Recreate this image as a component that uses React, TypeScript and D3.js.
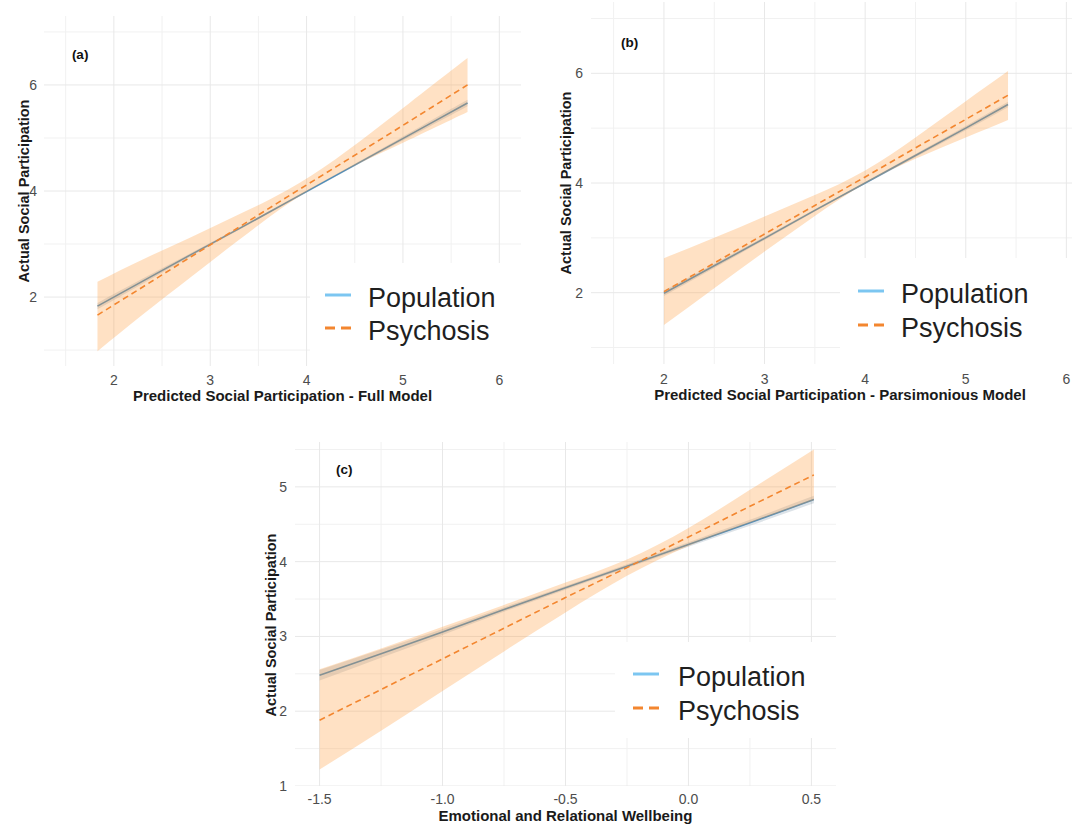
import React from 'react';
import * as d3 from 'd3';

// ---- data (fitted line + 95% band per group) ----

// (a) full model
const A_X = [1.83, 2.3, 2.8, 3.3, 3.8, 4.3, 4.8, 5.3, 5.67];
const A_POP_FIT = [1.83, 2.3, 2.8, 3.29, 3.79, 4.29, 4.79, 5.29, 5.66];
const A_POP_LO = [1.77, 2.25, 2.77, 3.27, 3.77, 4.27, 4.76, 5.24, 5.6];
const A_POP_HI = [1.89, 2.35, 2.83, 3.31, 3.81, 4.31, 4.82, 5.34, 5.72];
const A_PSY_FIT = [1.66, 2.19, 2.76, 3.32, 3.89, 4.45, 5.01, 5.58, 6.0];
const A_PSY_LO = [0.98, 1.67, 2.38, 3.08, 3.75, 4.3, 4.74, 5.17, 5.49];
const A_PSY_HI = [2.29, 2.71, 3.13, 3.56, 4.02, 4.6, 5.28, 5.99, 6.51];

// (b) parsimonious model
const B_X = [2.0, 2.5, 3.0, 3.5, 4.0, 4.5, 5.0, 5.42];
const B_POP_FIT = [1.99, 2.49, 2.99, 3.5, 4.0, 4.5, 5.0, 5.43];
const B_POP_LO = [1.94, 2.45, 2.96, 3.48, 3.98, 4.47, 4.96, 5.38];
const B_POP_HI = [2.04, 2.53, 3.02, 3.52, 4.02, 4.53, 5.04, 5.48];
const B_PSY_FIT = [2.02, 2.54, 3.07, 3.59, 4.11, 4.64, 5.16, 5.6];
const B_PSY_LO = [1.41, 2.08, 2.75, 3.4, 3.99, 4.44, 4.83, 5.15];
const B_PSY_HI = [2.63, 3.0, 3.39, 3.78, 4.23, 4.83, 5.49, 6.04];

// (c) emotional and relational wellbeing
const C_X = [-1.5, -1.25, -1.0, -0.75, -0.5, -0.25, 0.0, 0.25, 0.51];
const C_POP_FIT = [2.48, 2.77, 3.06, 3.36, 3.65, 3.94, 4.23, 4.52, 4.83];
const C_POP_LO = [2.41, 2.715, 3.02, 3.33, 3.625, 3.915, 4.2, 4.48, 4.78];
const C_POP_HI = [2.55, 2.825, 3.1, 3.39, 3.675, 3.965, 4.26, 4.56, 4.88];
const C_PSY_FIT = [1.88, 2.29, 2.7, 3.11, 3.52, 3.92, 4.33, 4.74, 5.16];
const C_PSY_LO = [1.22, 1.74, 2.27, 2.8, 3.32, 3.81, 4.21, 4.52, 4.82];
const C_PSY_HI = [2.56, 2.84, 3.13, 3.42, 3.72, 4.03, 4.45, 4.96, 5.5];

// ticks
const AB_X_MAJOR = [2, 3, 4, 5, 6];
const AB_X_MINOR = [1.5, 2.5, 3.5, 4.5, 5.5];
const AB_Y_MAJOR = [2, 4, 6];
const AB_Y_MINOR = [1, 3, 5, 7];
const C_X_MAJOR = [-1.5, -1.0, -0.5, 0.0, 0.5];
const C_X_LABELS = ['-1.5', '-1.0', '-0.5', '0.0', '0.5'];
const C_X_MINOR = [-1.25, -0.75, -0.25, 0.25];
const C_Y_MAJOR = [1, 2, 3, 4, 5];
const C_Y_MINOR = [1.5, 2.5, 3.5, 4.5, 5.5];

const SERIES = ['Population', 'Psychosis'];
const Y_TITLE = 'Actual Social Participation';

const FONT = '"Liberation Sans", Arial, Helvetica, sans-serif';
const POP_LINE = '#4f8dba';
const POP_KEY = '#7cc6f1';
const PSY_LINE = '#f3862f';
const PSY_FILL = '#ff9b3d';

const panels = [
  {
    id: 'a', tag: '(a)', tagAt: [1.65, 6.57],
    xTitle: 'Predicted Social Participation - Full Model',
    xs: A_X, popFit: A_POP_FIT, popLo: A_POP_LO, popHi: A_POP_HI,
    psyFit: A_PSY_FIT, psyLo: A_PSY_LO, psyHi: A_PSY_HI,
    xMajor: AB_X_MAJOR, xLabels: AB_X_MAJOR.map(String), xMinor: AB_X_MINOR,
    yMajor: AB_Y_MAJOR, yMinor: AB_Y_MINOR,
    xDomain: [1.275, 6.225], yDomain: [0.7, 7.3],
    left: 44, right: 521, top: 16, bottom: 366,
    xLabelY: 385, xTitleY: 401, yTitleX: 24, yTitleY: 191, yLabelGap: 7,
    legend: { x0: 310, y0: 263, key: 325, text: 368, rows: [295, 328] },
  },
  {
    id: 'b', tag: '(b)', tagAt: [1.66, 6.56],
    xTitle: 'Predicted Social Participation - Parsimonious Model',
    xs: B_X, popFit: B_POP_FIT, popLo: B_POP_LO, popHi: B_POP_HI,
    psyFit: B_PSY_FIT, psyLo: B_PSY_LO, psyHi: B_PSY_HI,
    xMajor: AB_X_MAJOR, xLabels: AB_X_MAJOR.map(String), xMinor: AB_X_MINOR,
    yMajor: AB_Y_MAJOR, yMinor: AB_Y_MINOR,
    xDomain: [1.275, 6.225], yDomain: [0.7, 7.3],
    left: 591, right: 1089, top: 2, bottom: 364,
    xLabelY: 384, xTitleY: 400, yTitleX: 566, yTitleY: 183, yLabelGap: 8,
    legend: { x0: 840, y0: 258, key: 858, text: 901, rows: [291, 325] },
  },
  {
    id: 'c', tag: '(c)', tagAt: [-1.4, 5.23],
    xTitle: 'Emotional and Relational Wellbeing',
    xs: C_X, popFit: C_POP_FIT, popLo: C_POP_LO, popHi: C_POP_HI,
    psyFit: C_PSY_FIT, psyLo: C_PSY_LO, psyHi: C_PSY_HI,
    xMajor: C_X_MAJOR, xLabels: C_X_LABELS, xMinor: C_X_MINOR,
    yMajor: C_Y_MAJOR, yMinor: C_Y_MINOR,
    xDomain: [-1.6, 0.6], yDomain: [1, 5.6],
    left: 295, right: 836, top: 442, bottom: 786,
    xLabelY: 804, xTitleY: 821, yTitleX: 271, yTitleY: 625, yLabelGap: 8,
    legend: { x0: 615, y0: 642, y1: 738, key: 633, text: 678, rows: [674, 708] },
  },
];

const Panel = ({ p }) => {
  const x = d3.scaleLinear().domain(p.xDomain).range([p.left, p.right]);
  const y = d3.scaleLinear().domain(p.yDomain).range([p.bottom, p.top]);
  const idx = p.xs.map((_, i) => i);

  const band = (lo, hi) =>
    d3.area().x(i => x(p.xs[i])).y0(i => y(lo[i])).y1(i => y(hi[i])).curve(d3.curveNatural)(idx);
  const fit = (v) => d3.line().x(i => x(p.xs[i])).y(i => y(v[i]))(idx);

  const clipId = `clip-${p.id}`;
  const lg = p.legend;
  const lgBottom = lg.y1 ?? p.bottom;

  return (
    <g>
      <defs>
        <clipPath id={clipId}>
          <rect x={p.left} y={p.top} width={p.right - p.left} height={p.bottom - p.top} />
        </clipPath>
      </defs>

      <g clipPath={`url(#${clipId})`}>
        {/* grid */}
        {p.xMinor.map(v => (
          <line key={'xm' + v} x1={x(v)} x2={x(v)} y1={p.top} y2={p.bottom} stroke="#f1f1f1" strokeWidth={1} />
        ))}
        {p.yMinor.map(v => (
          <line key={'ym' + v} x1={p.left} x2={p.right} y1={y(v)} y2={y(v)} stroke="#f1f1f1" strokeWidth={1} />
        ))}
        {p.xMajor.map(v => (
          <line key={'xM' + v} x1={x(v)} x2={x(v)} y1={p.top} y2={p.bottom} stroke="#e8e8e8" strokeWidth={1} />
        ))}
        {p.yMajor.map(v => (
          <line key={'yM' + v} x1={p.left} x2={p.right} y1={y(v)} y2={y(v)} stroke="#e8e8e8" strokeWidth={1} />
        ))}

        {/* population */}
        <path d={band(p.popLo, p.popHi)} fill="#8fa3b3" fillOpacity={0.3} />
        <path d={fit(p.popFit)} fill="none" stroke={POP_LINE} strokeWidth={1.6} />

        {/* psychosis */}
        <path d={band(p.psyLo, p.psyHi)} fill={PSY_FILL} fillOpacity={0.3} />
        <path d={fit(p.psyFit)} fill="none" stroke={PSY_LINE} strokeWidth={1.6} strokeDasharray="6,4" />

        {/* legend background */}
        <rect x={lg.x0} y={lg.y0} width={p.right - lg.x0} height={lgBottom - lg.y0} fill="#ffffff" />
      </g>

      {/* legend */}
      <line x1={lg.key} x2={lg.key + 26} y1={lg.rows[0]} y2={lg.rows[0]} stroke={POP_KEY} strokeWidth={3} />
      <line x1={lg.key} x2={lg.key + 26} y1={lg.rows[1]} y2={lg.rows[1]} stroke={PSY_LINE} strokeWidth={3} strokeDasharray="10,6" />
      {SERIES.map((s, i) => (
        <text key={s} x={lg.text} y={lg.rows[i] + 12} fontSize={27} fill="#1f1f1f" fontFamily={FONT}>{s}</text>
      ))}

      {/* panel tag */}
      <text x={x(p.tagAt[0])} y={y(p.tagAt[1])} fontSize={13.5} fontWeight="bold" fill="#111"
        textAnchor="middle" dominantBaseline="central" fontFamily={FONT}>{p.tag}</text>

      {/* axes */}
      {p.xMajor.map((v, i) => (
        <text key={'xl' + v} x={x(v)} y={p.xLabelY} fontSize={14} fill="#4d4d4d" textAnchor="middle" fontFamily={FONT}>
          {p.xLabels[i]}
        </text>
      ))}
      {p.yMajor.map(v => (
        <text key={'yl' + v} x={p.left - p.yLabelGap} y={y(v)} fontSize={14} fill="#4d4d4d" textAnchor="end"
          dominantBaseline="central" fontFamily={FONT}>{v}</text>
      ))}
      <text x={(p.left + p.right) / 2} y={p.xTitleY} fontSize={15} fontWeight="bold" fill="#1a1a1a"
        textAnchor="middle" fontFamily={FONT}>{p.xTitle}</text>
      <text transform={`translate(${p.yTitleX},${p.yTitleY}) rotate(-90)`} fontSize={14.5} fontWeight="bold"
        fill="#1a1a1a" textAnchor="middle" dominantBaseline="central" fontFamily={FONT}>{Y_TITLE}</text>
    </g>
  );
};

export default function App() {
  return (
    <svg width={1072} height={825} style={{ position: 'absolute', left: 0, top: 0, background: '#fff', overflow: 'hidden' }}>
      <rect width={1072} height={825} fill="#fff" />
      {panels.map(p => <Panel key={p.id} p={p} />)}
    </svg>
  );
}
